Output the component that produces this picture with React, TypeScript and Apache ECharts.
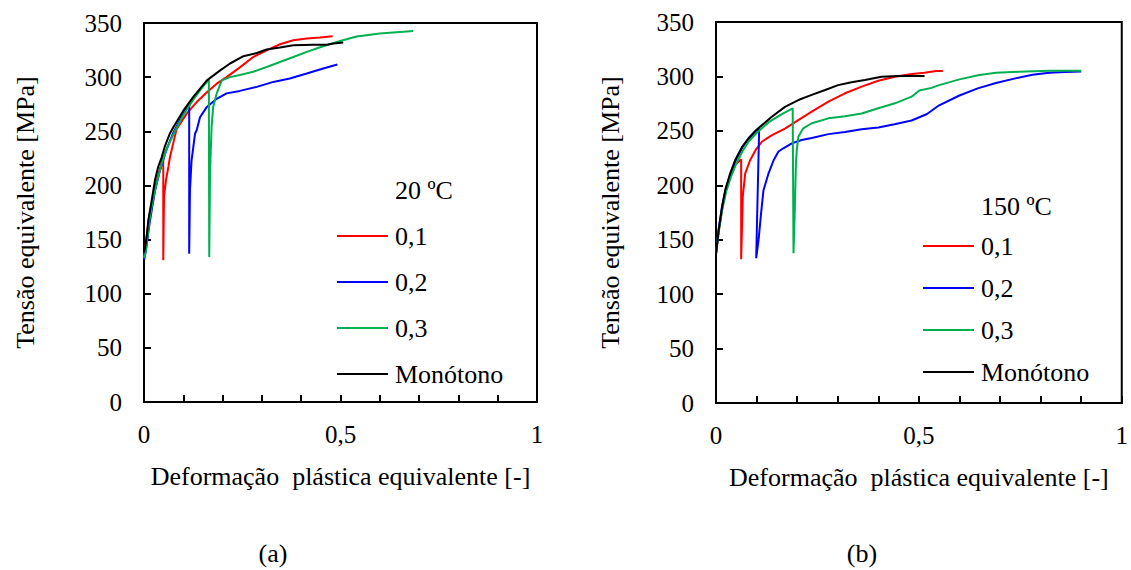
import React, { useEffect, useRef } from "react";
import * as echarts from "echarts";

// ---------- data ----------
const seriesNames = ["0,1", "0,2", "0,3", "Monótono"];
const seriesColors = ["#ff0000", "#0000ff", "#00b050", "#000000"];
const panelTitles = ["20 ºC", "150 ºC"];
const panelLetters = ["(a)", "(b)"];
const xTickValues = [0, 0.5, 1];
const xTickLabels = ["0", "0,5", "1"];
const xAxisTitle = "Deformação  plástica equivalente [-]";
const yAxisTitle = "Tensão equivalente [MPa]";

// 20 ºC
const red20 = [[0,133],[0.004,145],[0.009,160],[0.014,172],[0.022,188],[0.03,201],[0.038,212],[0.045,221],[0.049,226],[0.049,131],[0.051,190],[0.056,205],[0.062,217],[0.066,226],[0.075,240],[0.083,252],[0.109,266.5],[0.134,277],[0.16,286],[0.185,294],[0.21,300],[0.244,309],[0.278,318.6],[0.312,324.8],[0.346,330.4],[0.38,334],[0.414,335.6],[0.448,336.5],[0.48,337.7]];
const blue20 = [[0,131],[0.004,138],[0.008,148],[0.013,162],[0.02,178],[0.028,195],[0.04,213],[0.055,231],[0.075,249],[0.095,263],[0.115,276],[0.115,137],[0.117,196],[0.121,223],[0.13,248],[0.134,251],[0.1425,263],[0.16,272.5],[0.185,280],[0.21,285],[0.244,287.3],[0.287,291],[0.329,295.6],[0.371,298.7],[0.414,303.3],[0.456,308],[0.492,311.6]];
const green20 = [[0,133],[0.004,138],[0.008,150],[0.014,168],[0.022,185],[0.032,202],[0.045,220],[0.06,236],[0.08,251],[0.1,265],[0.125,279],[0.145,289],[0.165,298],[0.166,134],[0.168,211],[0.172,254],[0.176,272.5],[0.185,285],[0.198,297],[0.219,300],[0.244,302],[0.278,305],[0.312,309.4],[0.346,314],[0.38,318.6],[0.414,323.3],[0.456,328.5],[0.499,333.4],[0.541,337.5],[0.6,340.2],[0.651,341.7],[0.685,342.6]];
const mono20 = [[0,138],[0.0025,142],[0.007,153],[0.011,168],[0.0195,186],[0.028,205],[0.036,217],[0.045,226],[0.053,236],[0.066,248],[0.075,254],[0.1,269],[0.126,282],[0.16,297],[0.193,306],[0.219,312.6],[0.253,319.3],[0.287,322.3],[0.312,325.5],[0.346,327.3],[0.38,329.4],[0.431,330],[0.465,330],[0.482,331],[0.507,332]];

// 150 ºC
const red150 = [[0,137],[0.007,158],[0.016,180],[0.025,196],[0.036,209],[0.048,219],[0.062,224],[0.062,132],[0.066,189.5],[0.072,211],[0.084,223],[0.097,232],[0.113,240],[0.138,246],[0.154,249],[0.17,252],[0.195,258],[0.236,267.6],[0.277,276.8],[0.318,284.5],[0.359,290.6],[0.4,296],[0.441,299.7],[0.482,302.2],[0.514,303.4],[0.542,305],[0.559,305]];
const blue150 = [[0,137],[0.006,158],[0.015,181],[0.025,198],[0.037,212],[0.05,224],[0.065,235],[0.08,243],[0.095,249],[0.1064,252],[0.099,133],[0.105,150],[0.111,174],[0.117,195.5],[0.1295,211],[0.142,223],[0.154,231],[0.166,234],[0.187,238.5],[0.211,241.6],[0.236,243.5],[0.277,247],[0.318,249],[0.359,251.5],[0.4,253],[0.44,256],[0.482,259.5],[0.52,265.5],[0.55,273.5],[0.6,282.5],[0.645,289],[0.69,294],[0.735,298],[0.78,301.5],[0.821,303.4],[0.86,304],[0.9,304.5]];
const green150 = [[0,137],[0.006,156],[0.015,177],[0.025,194],[0.037,208],[0.05,220],[0.065,231],[0.08,240],[0.1,248],[0.13,258],[0.16,265],[0.189,270.7],[0.191,137.5],[0.194,174],[0.197,220],[0.199,232],[0.203,244.6],[0.215,252.3],[0.236,257],[0.277,261.5],[0.318,263.5],[0.359,266],[0.4,270.7],[0.441,275.3],[0.482,281.4],[0.501,287],[0.531,289.5],[0.55,292],[0.6,297.3],[0.649,301.3],[0.69,303.4],[0.747,304.3],[0.821,305.2],[0.9,305.2]];
const mono150 = [[0,137],[0.0066,159],[0.015,180],[0.023,196],[0.035,211],[0.047,223],[0.064,235],[0.08,243],[0.1,251],[0.1376,263],[0.17,272],[0.203,278.3],[0.236,283],[0.269,287.5],[0.301,292],[0.334,294.6],[0.367,296.7],[0.408,299.7],[0.449,300.4],[0.514,300.4]];

const panelData = [
  [red20, blue20, green20, mono20],
  [red150, blue150, green150, mono150],
];

// ---------- layout ----------
const FONT = "Liberation Serif, Times New Roman, serif";
const grids = [
  { left: 144, top: 23, width: 393, height: 379 },
  { left: 716, top: 22, width: 407, height: 381 },
];
const yNameGaps = [106, 93];
const legendPos = [
  { left: 337, top: 223, gap: 20 },
  { left: 923, top: 233, gap: 16 },
];
const titlePos = [
  { x: 395, y: 190 },
  { x: 981, y: 206 },
];
const letterPos = [
  { x: 273, y: 553 },
  { x: 862, y: 553 },
];

function xFmt(v: number) {
  for (let i = 0; i < xTickValues.length; i++) {
    if (Math.abs(v - xTickValues[i]) < 1e-6) return xTickLabels[i];
  }
  return "";
}

export default function App() {
  const ref = useRef<HTMLDivElement>(null);
  useEffect(() => {
    if (!ref.current) return;
    const chart = echarts.init(ref.current, null, { renderer: "svg" });
    const xAxis = grids.map((_, i) => ({
      type: "value",
      gridIndex: i,
      min: 0,
      max: 1,
      interval: 0.1,
      name: xAxisTitle,
      nameLocation: "middle",
      nameGap: 61,
      nameTextStyle: { fontFamily: FONT, fontSize: 26, color: "#000" },
      axisLine: { show: true, lineStyle: { color: "#000", width: 2 } },
      axisTick: { show: true, inside: true, length: 7, lineStyle: { color: "#000", width: 2 } },
      axisLabel: { formatter: xFmt, fontFamily: FONT, fontSize: 25, color: "#000", margin: 20, showMinLabel: true, showMaxLabel: true },
      splitLine: { show: false },
    }));
    const yAxis = grids.map((_, i) => ({
      type: "value",
      gridIndex: i,
      min: 0,
      max: 350,
      interval: 50,
      name: yAxisTitle,
      nameLocation: "middle",
      nameGap: yNameGaps[i],
      nameRotate: 90,
      nameTextStyle: { fontFamily: FONT, fontSize: 26, color: "#000" },
      axisLine: { show: true, lineStyle: { color: "#000", width: 2 } },
      axisTick: { show: true, inside: true, length: 7, lineStyle: { color: "#000", width: 2 } },
      axisLabel: { fontFamily: FONT, fontSize: 25, color: "#000", margin: 22 },
      splitLine: { show: false },
    }));
    const series: any[] = [];
    panelData.forEach((sets, p) => {
      sets.forEach((d, k) => {
        series.push({
          type: "line",
          name: seriesNames[k],
          xAxisIndex: p,
          yAxisIndex: p,
          data: d,
          symbol: "none",
          showSymbol: false,
          smooth: false,
          lineStyle: { color: seriesColors[k], width: 2 },
          itemStyle: { color: seriesColors[k] },
          z: 2 + k,
        });
      });
    });
    const legend = legendPos.map((lp) => ({
      orient: "vertical",
      left: lp.left,
      top: lp.top,
      padding: 0,
      itemGap: lp.gap,
      itemWidth: 51,
      itemHeight: 2,
      icon: "rect",
      selectedMode: false,
      data: seriesNames,
      textStyle: { fontFamily: FONT, fontSize: 26, color: "#000", padding: [0, 0, 0, 2] },
    }));
    const graphic: any[] = [];
    panelTitles.forEach((t, i) => {
      graphic.push({
        type: "text",
        left: titlePos[i].x,
        top: titlePos[i].y - 13,
        style: { text: t, fontFamily: FONT, fontSize: 26, fill: "#000" },
      });
      graphic.push({
        type: "text",
        x: letterPos[i].x,
        y: letterPos[i].y,
        style: { text: panelLetters[i], fontFamily: FONT, fontSize: 26, fill: "#000", align: "center", verticalAlign: "middle" },
      });
    });
    chart.setOption({
      animation: false,
      backgroundColor: "#fff",
      textStyle: { fontFamily: FONT },
      grid: grids.map((g) => ({ ...g, show: true, borderColor: "#000", borderWidth: 2, backgroundColor: "transparent", containLabel: false })),
      xAxis,
      yAxis,
      legend,
      series,
      graphic,
    });
    return () => chart.dispose();
  }, []);
  return (
    <div
      ref={ref}
      style={{ position: "fixed", left: 0, top: 0, width: 1131, height: 570, background: "#fff" }}
    />
  );
}
